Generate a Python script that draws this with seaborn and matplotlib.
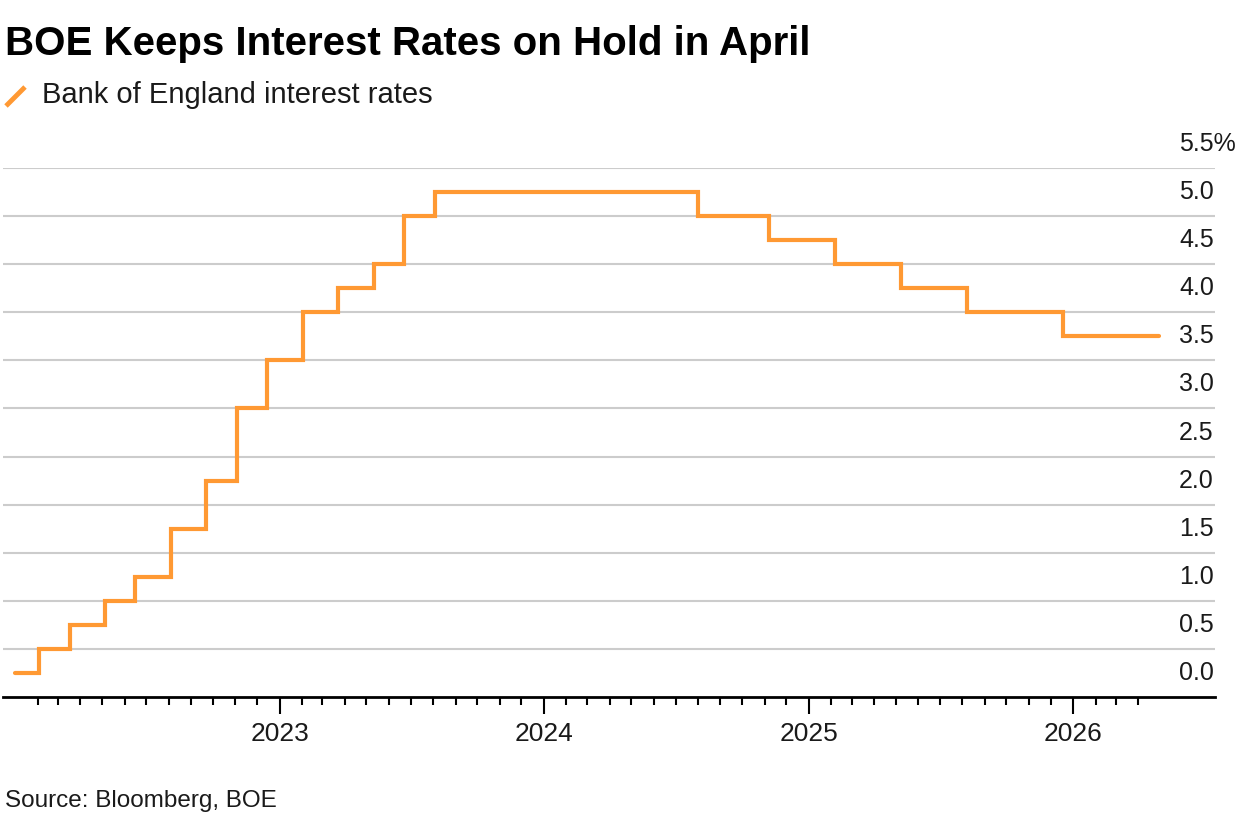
import pandas as pd
import seaborn as sns
import matplotlib.pyplot as plt
import matplotlib.dates as mdates
import matplotlib.ticker as mticker
import matplotlib.transforms as mtransforms
from matplotlib.lines import Line2D

# Bank Rate decisions (date of change, new rate); last point = end of series
change_dates = ["2022-01-01", "2022-02-03", "2022-03-17", "2022-05-05", "2022-06-16",
                "2022-08-04", "2022-09-22", "2022-11-03", "2022-12-15", "2023-02-02",
                "2023-03-23", "2023-05-11", "2023-06-22", "2023-08-03", "2024-08-01",
                "2024-11-07", "2025-02-06", "2025-05-08", "2025-08-07", "2025-12-18",
                "2026-04-30"]
rates = [0.25, 0.5, 0.75, 1.0, 1.25, 1.75, 2.25, 3.0, 3.5, 4.0, 4.25, 4.5, 5.0, 5.25,
         5.0, 4.75, 4.5, 4.25, 4.0, 3.75, 3.75]

y_ticks = [0.0, 0.5, 1.0, 1.5, 2.0, 2.5, 3.0, 3.5, 4.0, 4.5, 5.0, 5.5]
y_labels = ["0.0", "0.5", "1.0", "1.5", "2.0", "2.5", "3.0", "3.5", "4.0", "4.5", "5.0", "5.5%"]
year_ticks = ["2023-01-01", "2024-01-01", "2025-01-01", "2026-01-01"]
year_labels = ["2023", "2024", "2025", "2026"]

title = "BOE Keeps Interest Rates on Hold in April"
series_name = "Bank of England interest rates"
source = "Source: Bloomberg, BOE"

orange = "#FF9933"

df = pd.DataFrame({"date": pd.to_datetime(change_dates), "rate": rates})

sns.set_theme(style="white")
plt.rcParams["font.family"] = ["Liberation Sans", "DejaVu Sans"]

W, H = 1248, 824
fig = plt.figure(figsize=(W / 100, H / 100), dpi=100)
ax = fig.add_axes([3 / W, (H - 697) / H, (1215 - 3) / W, (697 - 168) / H])

sns.lineplot(data=df, x="date", y="rate", ax=ax, color=orange, linewidth=3.0,
             drawstyle="steps-post", solid_capstyle="round", solid_joinstyle="miter",
             zorder=3)

ax.set_xlim(pd.Timestamp("2021-12-15"), pd.Timestamp("2026-07-16"))
ax.set_ylim(0, 5.5)

# gridlines
for v in y_ticks[1:]:
    ax.axhline(v, color="#cccccc", linewidth=1.5, zorder=1)
ax.set_yticks([])

# y labels sit above their gridline on the right
offset = mtransforms.ScaledTranslation(0, 0.24, fig.dpi_scale_trans)
trans = mtransforms.blended_transform_factory(ax.transAxes, ax.transData) + offset
for v, lab in zip(y_ticks, y_labels):
    ax.text(0.9703, v, lab, transform=trans, ha="left", va="center",
            fontsize=18, color="#1a1a1a")

# x axis
for s in ["left", "right", "top"]:
    ax.spines[s].set_visible(False)
ax.spines["bottom"].set_color("black")
ax.spines["bottom"].set_linewidth(2)

major_locs = mdates.date2num(pd.to_datetime(year_ticks))
months = pd.date_range("2022-02-01", "2026-04-01", freq="MS")
minor_locs = [mdates.date2num(m) for m in months if m.month != 1]
ax.xaxis.set_major_locator(mticker.FixedLocator(major_locs))
ax.xaxis.set_major_formatter(mticker.FixedFormatter(year_labels))
ax.xaxis.set_minor_locator(mticker.FixedLocator(minor_locs))
ax.tick_params(axis="x", which="major", bottom=True, length=12, width=1.5,
               color="black", labelsize=19, pad=6, labelcolor="#1a1a1a")
ax.tick_params(axis="x", which="minor", bottom=True, length=6, width=1.5, color="black")
ax.set_xlabel("")
ax.set_ylabel("")

# title, legend, source
fig.text(5 / W, 1 - 55 / H, title, fontsize=29, fontweight="bold", ha="left",
         va="baseline", color="black")
fig.add_artist(Line2D([6 / W, 25 / W], [1 - 106 / H, 1 - 87 / H], color=orange,
                      linewidth=3.5, solid_capstyle="butt", transform=fig.transFigure))
fig.text(42 / W, 1 - 103 / H, series_name, fontsize=21, ha="left", va="baseline",
         color="#1a1a1a")
fig.text(5 / W, 1 - 807 / H, source, fontsize=17.5, ha="left", va="baseline",
         color="#1a1a1a")

fig.savefig("out.png", dpi=100, facecolor="white")
